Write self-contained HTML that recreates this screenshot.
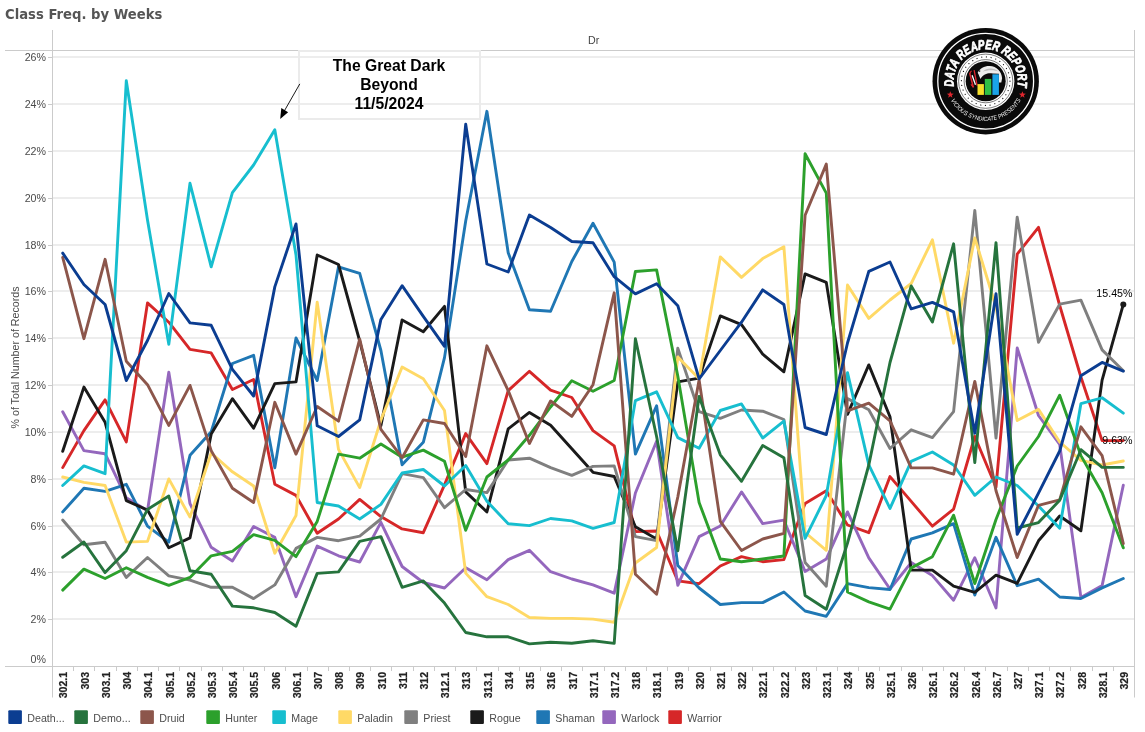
<!DOCTYPE html>
<html lang="en"><head><meta charset="utf-8"><title>Class Freq. by Weeks</title>
<style>html,body{margin:0;padding:0;background:#fff;}body{width:1145px;height:732px;overflow:hidden;position:relative;font-family:"Liberation Sans",Arial,sans-serif;}svg{position:absolute;left:0;top:0;display:block}text{font-family:"Liberation Sans",Arial,sans-serif}</style>
</head><body>
<svg width="1145" height="732" viewBox="0 0 1145 732">
<rect width="1145" height="732" fill="#fff"/>
<text x="5" y="19.3" font-size="13.2" font-weight="700" fill="#555" style="font-family:'DejaVu Sans','Liberation Sans',sans-serif">Class Freq. by Weeks</text>
<g fill="#ededed">
<rect x="53" y="618" width="1081" height="2"/>
<rect x="53" y="571" width="1081" height="2"/>
<rect x="53" y="525" width="1081" height="2"/>
<rect x="53" y="478" width="1081" height="2"/>
<rect x="53" y="431" width="1081" height="2"/>
<rect x="53" y="384" width="1081" height="2"/>
<rect x="53" y="337" width="1081" height="2"/>
<rect x="53" y="290" width="1081" height="2"/>
<rect x="53" y="244" width="1081" height="2"/>
<rect x="53" y="197" width="1081" height="2"/>
<rect x="53" y="150" width="1081" height="2"/>
<rect x="53" y="103" width="1081" height="2"/>
<rect x="53" y="56" width="1081" height="2"/>
</g>
<g stroke="#cbcbcb" stroke-width="1" fill="none">
<line x1="52.5" x2="52.5" y1="30" y2="697.5"/>
<line x1="1134.5" x2="1134.5" y1="30" y2="697.5"/>
<line x1="5" x2="1134.5" y1="50.5" y2="50.5"/>
<line x1="5" x2="1134.5" y1="666.5" y2="666.5"/>
<line x1="48" x2="52.5" y1="619.5" y2="619.5"/>
<line x1="48" x2="52.5" y1="572.5" y2="572.5"/>
<line x1="48" x2="52.5" y1="526.5" y2="526.5"/>
<line x1="48" x2="52.5" y1="479.5" y2="479.5"/>
<line x1="48" x2="52.5" y1="432.5" y2="432.5"/>
<line x1="48" x2="52.5" y1="385.5" y2="385.5"/>
<line x1="48" x2="52.5" y1="338.5" y2="338.5"/>
<line x1="48" x2="52.5" y1="291.5" y2="291.5"/>
<line x1="48" x2="52.5" y1="245.5" y2="245.5"/>
<line x1="48" x2="52.5" y1="198.5" y2="198.5"/>
<line x1="48" x2="52.5" y1="151.5" y2="151.5"/>
<line x1="48" x2="52.5" y1="104.5" y2="104.5"/>
<line x1="48" x2="52.5" y1="57.5" y2="57.5"/>
<line x1="73.5" x2="73.5" y1="666.5" y2="671"/>
<line x1="94.5" x2="94.5" y1="666.5" y2="671"/>
<line x1="116.5" x2="116.5" y1="666.5" y2="671"/>
<line x1="137.5" x2="137.5" y1="666.5" y2="671"/>
<line x1="158.5" x2="158.5" y1="666.5" y2="671"/>
<line x1="179.5" x2="179.5" y1="666.5" y2="671"/>
<line x1="201.5" x2="201.5" y1="666.5" y2="671"/>
<line x1="222.5" x2="222.5" y1="666.5" y2="671"/>
<line x1="243.5" x2="243.5" y1="666.5" y2="671"/>
<line x1="264.5" x2="264.5" y1="666.5" y2="671"/>
<line x1="285.5" x2="285.5" y1="666.5" y2="671"/>
<line x1="307.5" x2="307.5" y1="666.5" y2="671"/>
<line x1="328.5" x2="328.5" y1="666.5" y2="671"/>
<line x1="349.5" x2="349.5" y1="666.5" y2="671"/>
<line x1="370.5" x2="370.5" y1="666.5" y2="671"/>
<line x1="391.5" x2="391.5" y1="666.5" y2="671"/>
<line x1="413.5" x2="413.5" y1="666.5" y2="671"/>
<line x1="434.5" x2="434.5" y1="666.5" y2="671"/>
<line x1="455.5" x2="455.5" y1="666.5" y2="671"/>
<line x1="476.5" x2="476.5" y1="666.5" y2="671"/>
<line x1="498.5" x2="498.5" y1="666.5" y2="671"/>
<line x1="519.5" x2="519.5" y1="666.5" y2="671"/>
<line x1="540.5" x2="540.5" y1="666.5" y2="671"/>
<line x1="561.5" x2="561.5" y1="666.5" y2="671"/>
<line x1="582.5" x2="582.5" y1="666.5" y2="671"/>
<line x1="604.5" x2="604.5" y1="666.5" y2="671"/>
<line x1="625.5" x2="625.5" y1="666.5" y2="671"/>
<line x1="646.5" x2="646.5" y1="666.5" y2="671"/>
<line x1="667.5" x2="667.5" y1="666.5" y2="671"/>
<line x1="688.5" x2="688.5" y1="666.5" y2="671"/>
<line x1="710.5" x2="710.5" y1="666.5" y2="671"/>
<line x1="731.5" x2="731.5" y1="666.5" y2="671"/>
<line x1="752.5" x2="752.5" y1="666.5" y2="671"/>
<line x1="773.5" x2="773.5" y1="666.5" y2="671"/>
<line x1="795.5" x2="795.5" y1="666.5" y2="671"/>
<line x1="816.5" x2="816.5" y1="666.5" y2="671"/>
<line x1="837.5" x2="837.5" y1="666.5" y2="671"/>
<line x1="858.5" x2="858.5" y1="666.5" y2="671"/>
<line x1="879.5" x2="879.5" y1="666.5" y2="671"/>
<line x1="901.5" x2="901.5" y1="666.5" y2="671"/>
<line x1="922.5" x2="922.5" y1="666.5" y2="671"/>
<line x1="943.5" x2="943.5" y1="666.5" y2="671"/>
<line x1="964.5" x2="964.5" y1="666.5" y2="671"/>
<line x1="985.5" x2="985.5" y1="666.5" y2="671"/>
<line x1="1007.5" x2="1007.5" y1="666.5" y2="671"/>
<line x1="1028.5" x2="1028.5" y1="666.5" y2="671"/>
<line x1="1049.5" x2="1049.5" y1="666.5" y2="671"/>
<line x1="1070.5" x2="1070.5" y1="666.5" y2="671"/>
<line x1="1092.5" x2="1092.5" y1="666.5" y2="671"/>
<line x1="1113.5" x2="1113.5" y1="666.5" y2="671"/>
</g>
<text x="593.7" y="43.7" font-size="10.67" fill="#444" text-anchor="middle">Dr</text>
<g font-size="10.67" fill="#4a4a4a" text-anchor="end">
<text x="46" y="663.3">0%</text>
<text x="46" y="623.3">2%</text>
<text x="46" y="576.3">4%</text>
<text x="46" y="530.3">6%</text>
<text x="46" y="483.3">8%</text>
<text x="46" y="436.3">10%</text>
<text x="46" y="389.3">12%</text>
<text x="46" y="342.3">14%</text>
<text x="46" y="295.3">16%</text>
<text x="46" y="249.3">18%</text>
<text x="46" y="202.3">20%</text>
<text x="46" y="155.3">22%</text>
<text x="46" y="108.3">24%</text>
<text x="46" y="61.3">26%</text>
</g>
<text transform="translate(18.5,357.5) rotate(-90)" font-size="10.67" fill="#4a4a4a" text-anchor="middle">% of Total Number of Records</text>
<g font-size="10.55" font-weight="700" fill="#222" stroke="#222" stroke-width="0.2" text-anchor="end">
<text transform="translate(67.4,671.9) rotate(-90)">302.1</text>
<text transform="translate(88.6,671.9) rotate(-90)">303</text>
<text transform="translate(109.8,671.9) rotate(-90)">303.1</text>
<text transform="translate(131.0,671.9) rotate(-90)">304</text>
<text transform="translate(152.2,671.9) rotate(-90)">304.1</text>
<text transform="translate(173.5,671.9) rotate(-90)">305.1</text>
<text transform="translate(194.7,671.9) rotate(-90)">305.2</text>
<text transform="translate(215.9,671.9) rotate(-90)">305.3</text>
<text transform="translate(237.1,671.9) rotate(-90)">305.4</text>
<text transform="translate(258.3,671.9) rotate(-90)">305.5</text>
<text transform="translate(279.5,671.9) rotate(-90)">306</text>
<text transform="translate(300.7,671.9) rotate(-90)">306.1</text>
<text transform="translate(321.9,671.9) rotate(-90)">307</text>
<text transform="translate(343.2,671.9) rotate(-90)">308</text>
<text transform="translate(364.4,671.9) rotate(-90)">309</text>
<text transform="translate(385.6,671.9) rotate(-90)">310</text>
<text transform="translate(406.8,671.9) rotate(-90)">311</text>
<text transform="translate(428.0,671.9) rotate(-90)">312</text>
<text transform="translate(449.2,671.9) rotate(-90)">312.1</text>
<text transform="translate(470.4,671.9) rotate(-90)">313</text>
<text transform="translate(491.6,671.9) rotate(-90)">313.1</text>
<text transform="translate(512.9,671.9) rotate(-90)">314</text>
<text transform="translate(534.1,671.9) rotate(-90)">315</text>
<text transform="translate(555.3,671.9) rotate(-90)">316</text>
<text transform="translate(576.5,671.9) rotate(-90)">317</text>
<text transform="translate(597.7,671.9) rotate(-90)">317.1</text>
<text transform="translate(618.9,671.9) rotate(-90)">317.2</text>
<text transform="translate(640.1,671.9) rotate(-90)">318</text>
<text transform="translate(661.3,671.9) rotate(-90)">318.1</text>
<text transform="translate(682.5,671.9) rotate(-90)">319</text>
<text transform="translate(703.8,671.9) rotate(-90)">320</text>
<text transform="translate(725.0,671.9) rotate(-90)">321</text>
<text transform="translate(746.2,671.9) rotate(-90)">322</text>
<text transform="translate(767.4,671.9) rotate(-90)">322.1</text>
<text transform="translate(788.6,671.9) rotate(-90)">322.2</text>
<text transform="translate(809.8,671.9) rotate(-90)">323</text>
<text transform="translate(831.0,671.9) rotate(-90)">323.1</text>
<text transform="translate(852.2,671.9) rotate(-90)">324</text>
<text transform="translate(873.5,671.9) rotate(-90)">325</text>
<text transform="translate(894.7,671.9) rotate(-90)">325.1</text>
<text transform="translate(915.9,671.9) rotate(-90)">326</text>
<text transform="translate(937.1,671.9) rotate(-90)">326.1</text>
<text transform="translate(958.3,671.9) rotate(-90)">326.2</text>
<text transform="translate(979.5,671.9) rotate(-90)">326.4</text>
<text transform="translate(1000.7,671.9) rotate(-90)">326.7</text>
<text transform="translate(1021.9,671.9) rotate(-90)">327</text>
<text transform="translate(1043.2,671.9) rotate(-90)">327.1</text>
<text transform="translate(1064.4,671.9) rotate(-90)">327.2</text>
<text transform="translate(1085.6,671.9) rotate(-90)">328</text>
<text transform="translate(1106.8,671.9) rotate(-90)">328.1</text>
<text transform="translate(1128.0,671.9) rotate(-90)">329</text>
</g>
<rect x="299" y="51" width="181" height="68" fill="none" stroke="#ebebeb" stroke-width="2"/>
<g font-size="15.7" font-weight="700" fill="#000" text-anchor="middle">
<text x="389" y="71">The Great Dark</text><text x="389" y="90">Beyond</text><text x="389" y="109">11/5/2024</text></g>
<line x1="299.8" y1="83.9" x2="284" y2="111.5" stroke="#000" stroke-width="0.9"/>
<polygon points="280.2,118.9 281.3,108.1 288.1,112.2" fill="#000"/>
<g fill="none" stroke-width="2.9" stroke-linejoin="round" stroke-linecap="round">
<polyline stroke="#d62728" points="62.7,467.6 83.9,430.6 105.1,399.9 126.3,441.9 147.5,302.9 168.8,322.2 190.0,349.4 211.2,352.9 232.4,389.5 253.6,379.5 274.8,484.3 296.0,495.4 317.2,533.2 338.5,519.0 359.7,499.4 380.9,516.6 402.1,528.9 423.3,532.7 444.5,484.8 465.7,433.6 486.9,463.6 508.2,390.6 529.4,371.3 550.6,390.2 571.8,397.5 593.0,430.6 614.2,445.9 635.4,531.6 656.6,531.0 677.8,580.9 699.1,583.7 720.3,566.0 741.5,556.6 762.7,561.7 783.9,559.6 805.1,503.4 826.3,490.8 847.5,525.0 868.8,532.7 890.0,476.6 911.2,501.4 932.4,526.1 953.6,509.2 974.8,436.5 996.0,487.2 1017.2,254.1 1038.5,227.3 1059.7,305.5 1080.9,377.0 1102.1,440.6 1123.3,440.6"/>
<polyline stroke="#9467bd" points="62.7,411.7 83.9,450.6 105.1,453.7 126.3,497.8 147.5,510.7 168.8,372.2 190.0,503.7 211.2,547.3 232.4,561.0 253.6,526.5 274.8,537.4 296.0,596.7 317.2,546.1 338.5,555.8 359.7,562.0 380.9,522.4 402.1,566.5 423.3,582.5 444.5,588.0 465.7,567.7 486.9,579.7 508.2,559.6 529.4,550.3 550.6,571.7 571.8,579.0 593.0,584.9 614.2,593.2 635.4,493.0 656.6,441.2 677.8,585.4 699.1,536.6 720.3,526.0 741.5,491.9 762.7,523.6 783.9,520.1 805.1,571.5 826.3,559.1 847.5,511.9 868.8,557.9 890.0,589.0 911.2,562.6 932.4,575.6 953.6,600.2 974.8,557.7 996.0,608.0 1017.2,348.0 1038.5,415.5 1059.7,444.5 1080.9,597.4 1102.1,585.6 1123.3,485.2"/>
<polyline stroke="#1f77b4" points="62.7,511.9 83.9,488.3 105.1,491.4 126.3,484.3 147.5,526.1 168.8,542.1 190.0,455.3 211.2,431.7 232.4,363.5 253.6,355.3 274.8,467.8 296.0,338.0 317.2,380.5 338.5,266.8 359.7,273.4 380.9,350.5 402.1,464.8 423.3,442.3 444.5,357.6 465.7,221.0 486.9,111.3 508.2,252.7 529.4,309.7 550.6,311.2 571.8,261.5 593.0,223.2 614.2,262.1 635.4,454.1 656.6,405.8 677.8,565.6 699.1,588.0 720.3,604.5 741.5,602.6 762.7,602.6 783.9,592.0 805.1,611.0 826.3,616.3 847.5,583.6 868.8,587.6 890.0,589.5 911.2,539.0 932.4,532.9 953.6,523.7 974.8,595.0 996.0,537.3 1017.2,585.7 1038.5,579.2 1059.7,597.0 1080.9,598.5 1102.1,587.9 1123.3,578.5"/>
<polyline stroke="#1a1a1a" points="62.7,451.3 83.9,387.1 105.1,422.3 126.3,500.6 147.5,510.0 168.8,547.8 190.0,537.9 211.2,434.1 232.4,398.7 253.6,428.2 274.8,383.6 296.0,381.9 317.2,255.0 338.5,264.5 359.7,341.0 380.9,425.8 402.1,319.9 423.3,331.7 444.5,306.4 465.7,491.9 486.9,511.9 508.2,428.9 529.4,412.4 550.6,425.3 571.8,448.8 593.0,472.3 614.2,476.5 635.4,526.7 656.6,539.0 677.8,381.9 699.1,378.1 720.3,315.9 741.5,324.6 762.7,354.1 783.9,371.8 805.1,273.9 826.3,282.4 847.5,414.4 868.8,364.9 890.0,416.8 911.2,570.1 932.4,570.1 953.6,586.2 974.8,592.3 996.0,575.1 1017.2,583.3 1038.5,540.8 1059.7,516.0 1080.9,530.8 1102.1,380.1 1123.3,304.4"/>
<polyline stroke="#7f7f7f" points="62.7,520.0 83.9,544.8 105.1,542.3 126.3,577.4 147.5,557.5 168.8,575.9 190.0,580.2 211.2,587.3 232.4,587.3 253.6,598.6 274.8,584.9 296.0,548.4 317.2,537.4 338.5,540.7 359.7,536.2 380.9,519.0 402.1,473.7 423.3,477.7 444.5,507.7 465.7,489.5 486.9,492.6 508.2,460.0 529.4,458.2 550.6,467.6 571.8,475.4 593.0,466.4 614.2,465.9 635.4,536.7 656.6,540.7 677.8,348.2 699.1,411.7 720.3,418.3 741.5,410.0 762.7,411.2 783.9,419.5 805.1,562.5 826.3,586.2 847.5,398.6 868.8,409.7 890.0,448.5 911.2,429.8 932.4,437.6 953.6,411.6 974.8,210.5 996.0,438.0 1017.2,217.2 1038.5,342.3 1059.7,304.2 1080.9,300.1 1102.1,349.9 1123.3,370.7"/>
<polyline stroke="#ffd966" points="62.7,477.0 83.9,482.4 105.1,485.5 126.3,542.1 147.5,541.4 168.8,478.9 190.0,517.1 211.2,453.0 232.4,471.8 253.6,486.0 274.8,553.2 296.0,515.5 317.2,302.2 338.5,449.4 359.7,487.6 380.9,420.0 402.1,367.0 423.3,378.8 444.5,410.5 465.7,573.1 486.9,596.7 508.2,604.5 529.4,617.5 550.6,618.4 571.8,618.4 593.0,619.1 614.2,622.2 635.4,563.0 656.6,547.5 677.8,356.9 699.1,378.8 720.3,256.9 741.5,277.4 762.7,258.6 783.9,246.8 805.1,532.5 826.3,550.3 847.5,285.0 868.8,318.4 890.0,300.0 911.2,283.5 932.4,239.8 953.6,343.2 974.8,237.9 996.0,307.0 1017.2,420.5 1038.5,409.4 1059.7,442.0 1080.9,460.3 1102.1,465.0 1123.3,461.0"/>
<polyline stroke="#17becf" points="62.7,485.5 83.9,465.9 105.1,473.7 126.3,80.7 147.5,220.0 168.8,344.2 190.0,183.3 211.2,266.8 232.4,192.7 253.6,165.0 274.8,129.7 296.0,255.0 317.2,502.5 338.5,506.0 359.7,519.0 380.9,504.4 402.1,473.0 423.3,469.5 444.5,486.0 465.7,465.5 486.9,501.3 508.2,523.7 529.4,525.6 550.6,518.5 571.8,520.9 593.0,528.4 614.2,522.5 635.4,400.6 656.6,391.8 677.8,437.6 699.1,448.2 720.3,410.5 741.5,403.9 762.7,438.1 783.9,421.1 805.1,538.4 826.3,495.5 847.5,372.7 868.8,464.8 890.0,508.4 911.2,461.4 932.4,452.0 953.6,465.0 974.8,495.3 996.0,477.0 1017.2,485.5 1038.5,506.0 1059.7,528.2 1080.9,403.7 1102.1,397.8 1123.3,413.1"/>
<polyline stroke="#2ca02c" points="62.7,590.1 83.9,569.1 105.1,578.5 126.3,567.7 147.5,577.4 168.8,585.4 190.0,577.4 211.2,555.8 232.4,551.4 253.6,534.7 274.8,540.4 296.0,556.6 317.2,521.4 338.5,454.1 359.7,458.2 380.9,444.0 402.1,457.2 423.3,450.1 444.5,461.2 465.7,530.3 486.9,477.0 508.2,460.0 529.4,435.3 550.6,407.0 571.8,380.7 593.0,391.3 614.2,380.5 635.4,271.5 656.6,269.9 677.8,376.0 699.1,502.5 720.3,559.0 741.5,561.8 762.7,559.0 783.9,556.0 805.1,153.7 826.3,193.1 847.5,592.0 868.8,601.9 890.0,609.2 911.2,567.9 932.4,556.7 953.6,515.2 974.8,583.5 996.0,519.5 1017.2,466.0 1038.5,436.5 1059.7,395.2 1080.9,455.6 1102.1,492.8 1123.3,547.8"/>
<polyline stroke="#8c564b" points="62.7,257.4 83.9,338.7 105.1,259.3 126.3,361.2 147.5,384.7 168.8,425.4 190.0,385.4 211.2,450.6 232.4,488.3 253.6,502.5 274.8,402.3 296.0,454.1 317.2,406.5 338.5,421.1 359.7,339.2 380.9,429.4 402.1,457.7 423.3,419.9 444.5,423.5 465.7,456.5 486.9,345.8 508.2,390.6 529.4,443.5 550.6,401.0 571.8,416.4 593.0,384.7 614.2,292.8 635.4,574.3 656.6,594.3 677.8,497.0 699.1,380.0 720.3,521.3 741.5,550.5 762.7,539.0 783.9,533.4 805.1,215.3 826.3,164.1 847.5,410.9 868.8,403.1 890.0,420.8 911.2,467.9 932.4,467.9 953.6,474.2 974.8,381.4 996.0,490.8 1017.2,557.5 1038.5,505.3 1059.7,499.8 1080.9,426.8 1102.1,455.6 1123.3,543.6"/>
<polyline stroke="#26733d" points="62.7,557.3 83.9,542.0 105.1,572.6 126.3,550.7 147.5,509.4 168.8,496.1 190.0,570.8 211.2,574.3 232.4,606.1 253.6,607.8 274.8,612.5 296.0,626.2 317.2,573.4 338.5,571.9 359.7,541.3 380.9,536.6 402.1,587.3 423.3,580.9 444.5,603.1 465.7,632.5 486.9,636.8 508.2,636.8 529.4,643.9 550.6,642.2 571.8,643.2 593.0,640.8 614.2,643.4 635.4,338.7 656.6,436.5 677.8,550.7 699.1,396.4 720.3,454.8 741.5,481.3 762.7,445.4 783.9,457.7 805.1,595.5 826.3,609.2 847.5,543.0 868.8,465.0 890.0,362.5 911.2,285.9 932.4,322.0 953.6,243.8 974.8,462.5 996.0,242.6 1017.2,528.0 1038.5,522.6 1059.7,500.3 1080.9,449.7 1102.1,467.4 1123.3,467.4"/>
<polyline stroke="#0b3d91" points="62.7,253.1 83.9,284.5 105.1,304.5 126.3,380.5 147.5,340.5 168.8,293.5 190.0,322.9 211.2,325.3 232.4,369.4 253.6,396.0 274.8,286.9 296.0,223.9 317.2,425.8 338.5,436.5 359.7,419.9 380.9,319.4 402.1,285.7 423.3,316.3 444.5,346.3 465.7,124.3 486.9,264.0 508.2,272.0 529.4,215.1 550.6,227.5 571.8,241.5 593.0,242.8 614.2,276.7 635.4,293.9 656.6,283.8 677.8,305.7 699.1,378.8 720.3,350.5 741.5,322.2 762.7,289.9 783.9,304.5 805.1,427.5 826.3,434.5 847.5,343.0 868.8,271.4 890.0,262.0 911.2,308.8 932.4,302.4 953.6,311.8 974.8,433.2 996.0,293.7 1017.2,534.4 1038.5,493.1 1059.7,451.0 1080.9,375.8 1102.1,362.4 1123.3,371.1"/>
</g>
<circle cx="1123.3" cy="304.4" r="3" fill="#1a1a1a"/>
<g font-size="10.67" fill="#000" text-anchor="end"><text x="1132.5" y="297.3">15.45%</text><text x="1132.5" y="444">9.63%</text></g>
<g font-size="10.67" fill="#4d4d4d">
<rect x="8.3" y="710.3" width="13.6" height="13.6" rx="1" fill="#0b3d91"/><text x="27.3" y="722">Death...</text>
<rect x="74.3" y="710.3" width="13.6" height="13.6" rx="1" fill="#26733d"/><text x="93.3" y="722">Demo...</text>
<rect x="140.3" y="710.3" width="13.6" height="13.6" rx="1" fill="#8c564b"/><text x="159.3" y="722">Druid</text>
<rect x="206.3" y="710.3" width="13.6" height="13.6" rx="1" fill="#2ca02c"/><text x="225.3" y="722">Hunter</text>
<rect x="272.3" y="710.3" width="13.6" height="13.6" rx="1" fill="#17becf"/><text x="291.3" y="722">Mage</text>
<rect x="338.3" y="710.3" width="13.6" height="13.6" rx="1" fill="#ffd966"/><text x="357.3" y="722">Paladin</text>
<rect x="404.3" y="710.3" width="13.6" height="13.6" rx="1" fill="#7f7f7f"/><text x="423.3" y="722">Priest</text>
<rect x="470.3" y="710.3" width="13.6" height="13.6" rx="1" fill="#1a1a1a"/><text x="489.3" y="722">Rogue</text>
<rect x="536.3" y="710.3" width="13.6" height="13.6" rx="1" fill="#1f77b4"/><text x="555.3" y="722">Shaman</text>
<rect x="602.3" y="710.3" width="13.6" height="13.6" rx="1" fill="#9467bd"/><text x="621.3" y="722">Warlock</text>
<rect x="668.3" y="710.3" width="13.6" height="13.6" rx="1" fill="#d62728"/><text x="687.3" y="722">Warrior</text>
</g>
<g transform="translate(985.7,81.2)">
<circle r="53.2" fill="#0a0a0a"/>
<circle r="47.9" fill="none" stroke="#fff" stroke-width="1.3"/>
<path id="lgTop" d="M-31.66,5.30 A32.1,32.1 0 1 1 31.66,5.30" fill="none"/>
<text font-size="13.4" font-weight="700" font-style="italic" fill="#fff" stroke="#fff" stroke-width="0.8" stroke-linejoin="round" style="font-family:'Liberation Sans',sans-serif"><textPath href="#lgTop" textLength="111.5" lengthAdjust="spacingAndGlyphs">DATA REAPER REPORT</textPath></text>
<path id="lgBot" d="M-34.89,18.94 A39.7,39.7 0 0 0 34.89,18.94" fill="none"/>
<text font-size="6.1" font-style="italic" fill="#f2f2f2" style="font-family:'Liberation Sans',sans-serif"><textPath href="#lgBot" textLength="85.2" lengthAdjust="spacingAndGlyphs">VICIOUS SYNDICATE PRESENTS</textPath></text>
<polygon points="-35.40,10.00 -34.51,12.38 -31.98,12.49 -33.96,14.07 -33.28,16.51 -35.40,15.11 -37.52,16.51 -36.84,14.07 -38.82,12.49 -36.29,12.38" fill="#e0262e"/>
<polygon points="36.70,10.00 37.59,12.38 40.12,12.49 38.14,14.07 38.82,16.51 36.70,15.11 34.58,16.51 35.26,14.07 33.28,12.49 35.81,12.38" fill="#e0262e"/>
<circle r="28.7" fill="#fff"/>
<circle r="27.1" fill="none" stroke="#111" stroke-width="0.55"/>
<circle r="24.3" fill="none" stroke="#111" stroke-width="1.25" stroke-linecap="round" stroke-dasharray="0.01 4.761" />
<circle r="21.6" fill="none" stroke="#111" stroke-width="0.55"/>
<circle r="20" fill="#0a0a0a"/>
<path d="M-8,-8.5 C-6,-13 -1,-15.5 4,-15.3 C11,-15 16,-10 16.4,-3 L15.6,1.2 L13.2,1.2 L13.2,-7.4 L7,-7.6 C3,-8.6 -2,-7.5 -5.3,-2.3 C-6,-4 -6.6,-6 -8,-8.5 Z" fill="#ececec"/>
<path d="M-3,-9.5 C1,-13.5 8,-14 13,-9.5 C9,-11.5 2,-11.5 -3,-9.5 Z" fill="#bdbdbd"/>
<circle cx="-6.1" cy="-10.1" r="0.8" fill="#222"/>
<path d="M-16,-8 L-12.4,6" stroke="#e0262e" stroke-width="1.5" fill="none"/>
<path d="M-13.6,-6 L-10.2,3.5" stroke="#fff" stroke-width="1.3" fill="none"/>
<path d="M-11.6,-11 L-8.6,4.5" stroke="#e0262e" stroke-width="1.3" fill="none"/>
<path d="M-16.2,-7.6 L-14.2,-10.4 M-14.8,3.2 L-12.2,6.2" stroke="#e0262e" stroke-width="1.1" fill="none"/>
<rect x="-8.2" y="2.9" width="6.4" height="10.8" fill="#f5e02a"/>
<rect x="-0.9" y="-2.3" width="6.5" height="16" fill="#2fc046"/>
<rect x="6.7" y="-6.9" width="6.5" height="20.6" fill="#1aa3e8"/>
</g>
</svg></body></html>
